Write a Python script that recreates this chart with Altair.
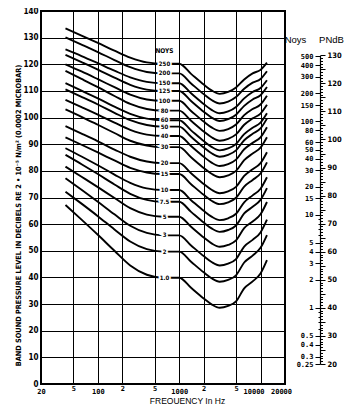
import altair as alt
import pandas as pd

# band centre frequencies (Hz) at which each contour was read
freqs = [40, 63, 100, 160, 250, 400, 630, 1000, 1400, 2000, 2500, 3150, 4000, 5000, 6300, 8000, 10000, 12000]

noy_labels = ["250", "200", "150", "125", "100", "80", "60", "50", "40", "30",
              "20", "15", "10", "7.5", "5", "3", "2", "1.0"]

c250 = [133.5, 130.8, 128.0, 125.1, 122.5, 120.7, 120.2, 120.2, 116.4, 112.4, 110.2, 108.9, 109.6, 111.3, 114.3, 116.6, 117.9, 120.6]
c200 = [130.1, 127.4, 124.6, 121.6, 118.9, 117.1, 116.6, 116.6, 112.8, 108.8, 106.6, 105.3, 106.0, 107.7, 110.8, 113.1, 114.5, 117.4]
c150 = [125.6, 123.1, 120.4, 117.6, 115.1, 113.4, 112.9, 112.9, 109.1, 105.1, 102.9, 101.6, 102.3, 104.0, 107.2, 109.6, 111.1, 114.0]
c125 = [123.5, 120.8, 118.0, 115.0, 112.3, 110.5, 110.0, 110.0, 106.2, 102.2, 100.0, 98.7, 99.4, 101.1, 104.4, 106.8, 108.4, 111.5]
c100 = [120.0, 117.3, 114.4, 111.4, 108.6, 106.8, 106.3, 106.3, 102.5, 98.5, 96.3, 95.0, 95.7, 97.4, 100.9, 103.2, 104.9, 108.2]
c80 = [117.5, 114.5, 111.4, 108.1, 105.1, 103.2, 102.6, 102.6, 98.8, 94.8, 92.6, 91.3, 92.0, 93.7, 97.3, 99.7, 101.5, 104.8]
c60 = [112.9, 110.1, 107.2, 104.1, 101.4, 99.6, 99.0, 99.0, 95.2, 91.2, 89.0, 87.7, 88.4, 90.1, 93.8, 96.2, 98.1, 101.6]
c50 = [110.6, 107.8, 104.9, 101.8, 99.0, 97.2, 96.6, 96.6, 92.8, 88.8, 86.6, 85.3, 86.0, 87.7, 91.5, 93.9, 95.9, 99.6]
c40 = [106.6, 103.9, 101.1, 98.1, 95.4, 93.6, 93.1, 93.1, 89.3, 85.3, 83.1, 81.8, 82.5, 84.2, 88.1, 90.5, 92.6, 96.4]
c30 = [103.1, 100.3, 97.3, 94.2, 91.3, 89.5, 88.9, 88.9, 85.1, 81.1, 78.9, 77.6, 78.3, 80.0, 84.0, 86.5, 88.7, 92.6]
c20 = [96.8, 94.0, 91.1, 88.0, 85.3, 83.5, 82.9, 82.9, 79.1, 75.1, 72.9, 71.6, 72.3, 74.0, 78.1, 80.6, 82.9, 87.0]
c15 = [92.6, 89.8, 86.9, 83.9, 81.1, 79.4, 78.8, 78.8, 75.0, 71.0, 68.8, 67.5, 68.2, 69.9, 74.1, 76.6, 79.0, 83.2]
c10 = [88.5, 85.4, 82.1, 78.6, 75.5, 73.4, 72.8, 72.8, 69.0, 65.0, 62.8, 61.5, 62.2, 63.9, 68.2, 70.8, 73.3, 77.6]
c7_5 = [86.0, 82.5, 78.8, 74.9, 71.4, 69.1, 68.4, 68.4, 64.6, 60.6, 58.4, 57.1, 57.8, 59.5, 64.0, 66.5, 69.1, 73.5]
c5 = [81.6, 77.8, 73.9, 69.8, 66.0, 63.6, 62.8, 62.8, 59.0, 55.0, 52.8, 51.5, 52.2, 53.9, 58.5, 61.0, 63.7, 68.3]
c3 = [77.2, 72.9, 68.4, 63.7, 59.4, 56.7, 55.8, 55.8, 52.0, 48.0, 45.8, 44.5, 45.2, 46.9, 51.6, 54.1, 56.9, 61.7]
c2 = [72.2, 67.7, 63.0, 58.0, 53.5, 50.6, 49.7, 49.7, 45.9, 41.9, 39.7, 38.4, 39.1, 40.8, 45.6, 48.2, 51.1, 55.9]
c1 = [67.2, 61.7, 56.0, 50.0, 44.5, 41.0, 39.9, 39.9, 36.1, 32.1, 29.9, 28.6, 29.3, 31.0, 35.9, 38.5, 41.5, 46.5]

curves = [c250, c200, c150, c125, c100, c80, c60, c50, c40, c30, c20, c15, c10, c7_5, c5, c3, c2, c1]

x_tick_values = [20, 50, 100, 200, 500, 1000, 2000, 5000, 10000, 20000]
y_tick_values = [0, 10, 20, 30, 40, 50, 60, 70, 80, 90, 100, 110, 120, 130, 140]

noys_ticks = [0.25, 0.3, 0.4, 0.5, 0.6, 0.7, 0.8, 0.9, 1, 2, 3, 4, 5, 6, 7, 8, 9,
              10, 15, 20, 30, 40, 50, 60, 80, 100, 150, 200, 300, 400, 500]
pndb_ticks = list(range(20, 131))

rows = []
for name, vals in zip(noy_labels, curves):
    for f, v in zip(freqs, vals):
        rows.append({"freq": f, "db": v, "noys": name})
df = pd.DataFrame(rows)

LABEL_FREQ = 660
lab_df = pd.DataFrame({"freq": [LABEL_FREQ] * len(noy_labels),
                       "db": [c[7] for c in curves],
                       "txt": noy_labels})
head_df = pd.DataFrame({"freq": [LABEL_FREQ], "db": [125.0], "txt": ["NOYS"]})
noys_df = pd.DataFrame({"n": noys_ticks})
pndb_df = pd.DataFrame({"p": pndb_ticks})

NARROW = "Liberation Sans Narrow, DejaVu Sans Condensed, Liberation Sans, sans-serif"
MONO = "DejaVu Sans Mono, Liberation Mono, monospace"
SANS = "Liberation Sans, DejaVu Sans, sans-serif"

xscale = alt.Scale(type="log", domain=[20, 20000], nice=False)
yscale = alt.Scale(domain=[0, 140], nice=False, zero=False)

x_axis = alt.Axis(
    values=x_tick_values,
    labelExpr="(datum.value == 50 || datum.value == 500 || datum.value == 5000) ? '5' : ((datum.value == 200 || datum.value == 2000) ? '2' : format(datum.value, 'd'))",
    grid=True, gridColor="black", gridWidth=1, gridOpacity=1,
    domain=False, ticks=False,
    labelFont=MONO, labelFontSize=7, labelFontWeight="bold", labelColor="black",
    labelFlush=False, labelOverlap=False, labelBound=False,
    labelPadding={"condition": {"test": "indexof([50, 200, 500, 2000, 5000], datum.value) >= 0", "value": 0}, "value": 3},
    labelOffset={"condition": [{"test": "datum.value == 10000", "value": -7},
                               {"test": "datum.value == 20000", "value": -4}], "value": 0},
    title="FREQUENCY In Hz", titleFont=SANS, titleFontSize=8.5, titleFontWeight="normal",
    titleColor="black", titleX=146, titleY=16, titleAlign="center", titleBaseline="middle",
)

y_axis = alt.Axis(
    values=y_tick_values, tickCount=15,
    grid=True, gridColor="black", gridWidth=1, gridOpacity=1,
    domain=False, ticks=False,
    labelFont=NARROW, labelFontSize=8, labelFontWeight="bold", labelColor="black",
    labelPadding=3, labelFlush=False, labelOverlap=False,
    title="BAND SOUND PRESSURE LEVEL IN DECIBELS RE 2 \u2022 10\u207b\u2075 N/m\u00b2 (0.0002 MICROBAR)",
    titleFont=NARROW, titleFontSize=7.3, titleFontWeight="bold", titleColor="black",
    titleAngle=270, titleX=-22.5, titleY=204, titleAlign="center", titleBaseline="middle",
)

X = alt.X("freq:Q", scale=xscale, axis=x_axis)
Y = alt.Y("db:Q", scale=yscale, axis=y_axis)

lines = alt.Chart(df).mark_line(color="black", strokeWidth=1.9, interpolate="monotone").encode(
    x=X, y=Y, detail="noys:N",
)

halo = alt.Chart(lab_df).mark_text(
    font=NARROW, fontSize=6, fontWeight="bold", color="white", stroke="white", strokeWidth=3.5
).encode(x=X, y=Y, text="txt:N")

labels = alt.Chart(lab_df).mark_text(
    font=NARROW, fontSize=6, fontWeight="bold", color="black"
).encode(x=X, y=Y, text="txt:N")

head = alt.Chart(head_df).mark_text(
    font=NARROW, fontSize=6.5, fontWeight="bold", color="black"
).encode(x=X, y=Y, text="txt:N")

inner = alt.layer(lines, halo, labels, head)

minor_noys = "(datum.value > 0.5 && datum.value < 1) || (datum.value > 5 && datum.value < 10)"
noys_layer = alt.Chart(noys_df).mark_point(opacity=0).encode(
    y=alt.Y("n:Q",
            scale=alt.Scale(type="log", domain=[0.25, 500], range=[353, 45.3], nice=False),
            axis=alt.Axis(
                orient="left", offset=-279, values=noys_ticks, grid=False, domain=False,
                labelExpr=minor_noys + " ? '' : ('' + datum.value)",
                labelFont=MONO, labelFontSize=7, labelFontWeight="bold", labelColor="black",
                labelPadding=2, labelOverlap=False, labelFlush=False, labelBound=False,
                tickColor="black", tickWidth=1,
                tickSize={"condition": {"test": minor_noys, "value": 2}, "value": 5},
                title="Noys", titleFont=SANS, titleFontSize=9.5, titleFontWeight="normal",
                titleColor="black", titleAngle=0, titleX=-25, titleY=28,
                titleAlign="center", titleBaseline="middle",
            )),
)

pndb_layer = alt.Chart(pndb_df).mark_point(opacity=0).encode(
    y=alt.Y("p:Q",
            scale=alt.Scale(domain=[20, 130], range=[353, 44.3], nice=False, zero=False),
            axis=alt.Axis(
                orient="right", offset=35, values=pndb_ticks, grid=False,
                domain=True, domainColor="black", domainWidth=1.2,
                labelExpr="datum.value % 10 == 0 ? ('' + datum.value) : ''",
                labelFont=NARROW, labelFontSize=7.5, labelFontWeight="bold", labelColor="black",
                labelPadding=2, labelOverlap=False, labelFlush=False, labelBound=False,
                tickColor="black", tickWidth=1,
                tickSize={"condition": [{"test": "datum.value % 10 == 0", "value": 5},
                                        {"test": "datum.value % 5 == 0", "value": 5}], "value": 2.5},
                title="PNdB", titleFont=SANS, titleFontSize=9.5, titleFontWeight="normal",
                titleColor="black", titleAngle=0, titleX=11, titleY=28,
                titleAlign="center", titleBaseline="middle",
            )),
)

chart = alt.layer(inner, noys_layer, pndb_layer).resolve_scale(y="independent").properties(
    width=244, height=373, autosize="none",
    padding={"left": 33, "top": 3, "right": 63, "bottom": 20},
    background="white",
).configure_view(stroke="black", strokeWidth=2)

chart.save("out.html", embed_options={"renderer": "svg", "actions": False})
